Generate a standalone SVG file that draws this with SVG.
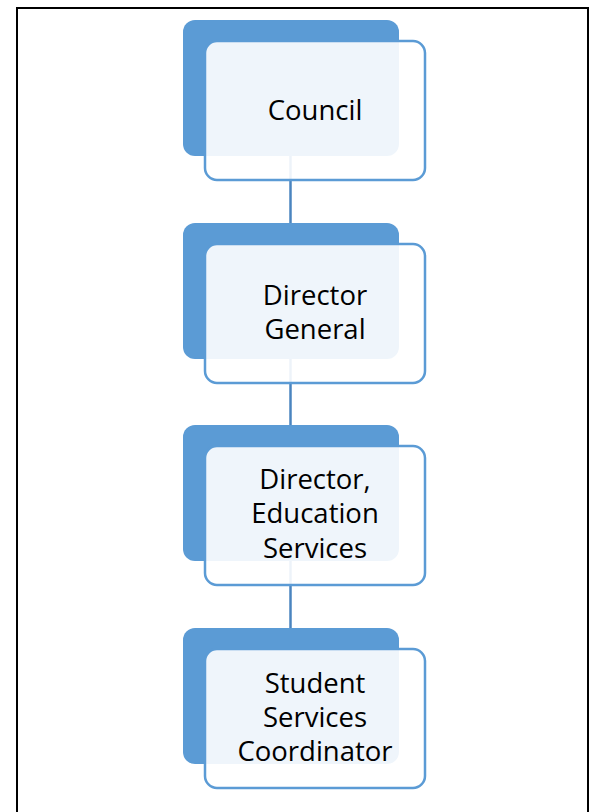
<svg xmlns="http://www.w3.org/2000/svg" width="593" height="812" viewBox="0 0 593 812">
<style>
.back{fill:#5B9BD5}
.front{fill:#FFFFFF;fill-opacity:0.9;stroke:#5B9BD5;stroke-width:2.5}
.lbl{font-family:"Open Sans","Noto Sans",sans-serif;font-size:27.5px;fill:#000;text-anchor:middle}
.conn{stroke:#4A84BF;stroke-width:2.5;fill:none}
</style>
<rect x="0" y="0" width="593" height="812" fill="#FFFFFF"/>
<path d="M17 820 V8 H588 V820" fill="none" stroke="#000" stroke-width="2"/>
<g id="connectors">
<line class="conn" x1="290.5" y1="155" x2="290.5" y2="223"/>
<line class="conn" x1="290.5" y1="358" x2="290.5" y2="425"/>
<line class="conn" x1="290.5" y1="560" x2="290.5" y2="628"/>
</g>
<g id="node-council">
<rect class="back" x="183" y="20" width="216" height="136" rx="12"/>
<rect class="front" x="205" y="41" width="220" height="139" rx="12"/>
<text class="lbl" x="315" y="120">Council</text>
</g>
<g id="node-director-general">
<rect class="back" x="183" y="223" width="216" height="136" rx="12"/>
<rect class="front" x="205" y="244" width="220" height="139" rx="12"/>
<text class="lbl" x="315" y="305">Director</text>
<text class="lbl" x="315" y="339">General</text>
</g>
<g id="node-director-education">
<rect class="back" x="183" y="425" width="216" height="136" rx="12"/>
<rect class="front" x="205" y="446" width="220" height="139" rx="12"/>
<text class="lbl" x="315" y="489">Director,</text>
<text class="lbl" x="315" y="523">Education</text>
<text class="lbl" x="315" y="558">Services</text>
</g>
<g id="node-student-services">
<rect class="back" x="183" y="628" width="216" height="136" rx="12"/>
<rect class="front" x="205" y="649" width="220" height="139" rx="12"/>
<text class="lbl" x="315" y="693">Student</text>
<text class="lbl" x="315" y="727">Services</text>
<text class="lbl" x="315" y="761">Coordinator</text>
</g>
</svg>
